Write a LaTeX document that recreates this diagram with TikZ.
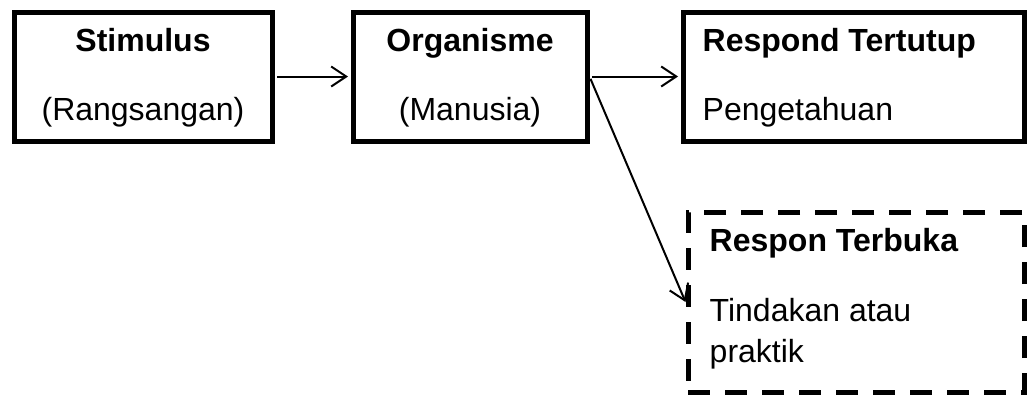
\documentclass[tikz,border=0pt]{standalone}
\usepackage{fontspec}
\setmainfont{Liberation Sans}
\usetikzlibrary{arrows.meta,calc}

\begin{document}
\begin{tikzpicture}[x=1pt,y=-1pt,
  box/.style={draw,line width=5pt,rectangle,minimum height=129pt,inner sep=0pt},
  dashbox/.style={box,dash pattern=on 22pt off 15pt,minimum height=180pt},
  head/.style={font=\fontsize{32}{38}\selectfont\bfseries,inner sep=0pt},
  body/.style={font=\fontsize{32}{38}\selectfont,inner sep=0pt},
  arr/.style={line width=2pt,-{Straight Barb[length=15pt,width=20pt]},
    shorten <=2.5pt,shorten >=2.5pt}]

\useasboundingbox (0,0) rectangle (1028,394);

% boxes
\node[box,minimum width=258pt] (stim) at (143,76.5) {};
\node[box,minimum width=234pt] (org) at (470,76.5) {};
\node[box,minimum width=341pt] (tutup) at (853.5,76.5) {};
\node[dashbox,minimum width=336pt] (buka) at (856,302) {};

% texts
\node[head,anchor=base] (stimT) at ($(stim.north)+(0,42)$) {Stimulus};
\node[body,anchor=base] (stimS) at ($(stim.north)+(0,111)$) {(Rangsangan)};
\node[head,anchor=base] (orgT) at ($(org.north)+(0,42)$) {Organisme};
\node[body,anchor=base] (orgS) at ($(org.north)+(0,111)$) {(Manusia)};
\node[head,anchor=base west] (tutupT) at ($(tutup.north west)+(22,42)$) {Respond Tertutup};
\node[body,anchor=base west] (tutupS) at ($(tutup.north west)+(22,111)$) {Pengetahuan};
\node[head,anchor=base west] (bukaT) at ($(buka.north west)+(24,42)$) {Respon Terbuka};
\node[body,anchor=base west] (bukaS) at ($(buka.north west)+(24,112)$) {Tindakan atau};
\node[body,anchor=base west] (bukaS2) at ($(buka.north west)+(24,153)$) {praktik};

% arrows
\draw[arr] (stim.east) -- (org.west);
\draw[arr] (org.east) -- (tutup.west);
\draw[arr,shorten >=0pt] (org.east) -- (buka.west);

\end{tikzpicture}
\end{document}
